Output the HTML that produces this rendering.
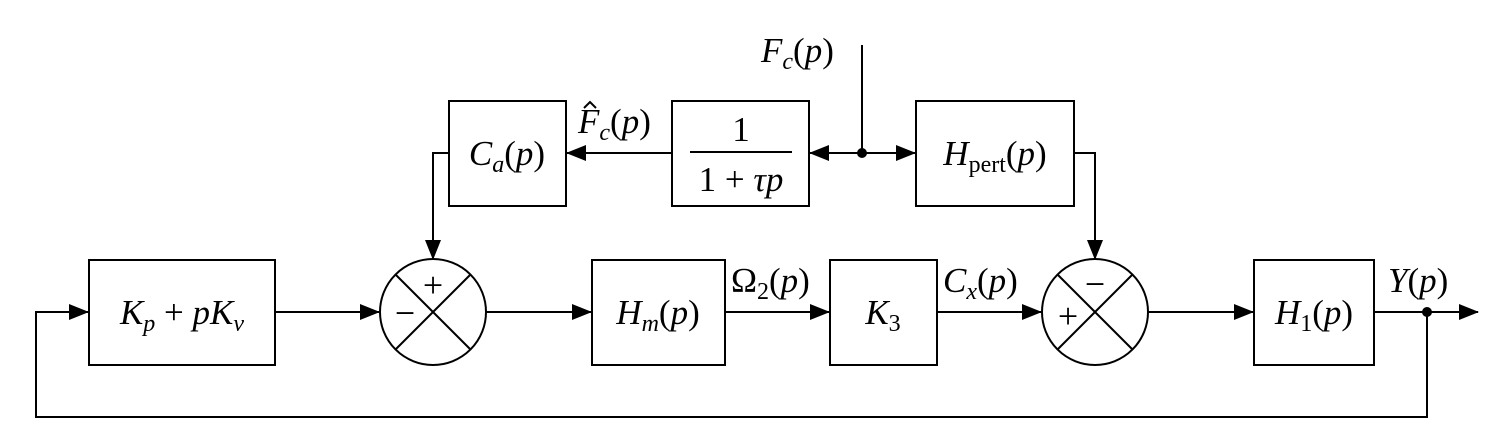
<!DOCTYPE html>
<html><head><meta charset="utf-8"><style>
html,body{margin:0;padding:0;background:#fff;}
svg{display:block;}
text{font-family:"Liberation Serif",serif;font-size:35px;fill:#000;}
.i{font-style:italic;}
.s{font-size:24px;}
</style></head><body>
<svg width="1503" height="435" viewBox="0 0 1503 435">
<defs>
<marker id="ab" markerWidth="20" markerHeight="16" refX="19" refY="8" orient="auto" markerUnits="userSpaceOnUse" viewBox="0 0 20 16"><path d="M0,0 L20,8 L0,16 Z" fill="#000"/></marker></defs>
<g stroke="#000" stroke-width="2" fill="none">
<rect x="89" y="260" width="186" height="105" fill="#fff"/>
<rect x="592" y="260" width="133" height="105" fill="#fff"/>
<rect x="830" y="260" width="107" height="105" fill="#fff"/>
<rect x="1254" y="260" width="120" height="105" fill="#fff"/>
<rect x="449" y="101" width="117" height="105" fill="#fff"/>
<rect x="672" y="101" width="137" height="105" fill="#fff"/>
<rect x="916" y="101" width="158" height="105" fill="#fff"/>
<g><circle cx="433" cy="312" r="53"/><path d="M395.5,274.5L470.5,349.5M470.5,274.5L395.5,349.5"/></g>
<g><circle cx="1095" cy="312" r="53"/><path d="M1057.5,274.5L1132.5,349.5M1132.5,274.5L1057.5,349.5"/></g>
<path d="M275,312H379" marker-end="url(#ab)"/>
<path d="M486,312H591" marker-end="url(#ab)"/>
<path d="M725,312H829" marker-end="url(#ab)"/>
<path d="M937,312H1041" marker-end="url(#ab)"/>
<path d="M1148,312H1253" marker-end="url(#ab)"/>
<path d="M1374,312H1478" marker-end="url(#ab)"/>
<path d="M1427,312V417H36V312H88" marker-end="url(#ab)"/>
<path d="M449,153H433V259" marker-end="url(#ab)"/>
<path d="M1074,153H1095V259" marker-end="url(#ab)"/>
<path d="M862,45V153"/>
<path d="M862,153H810" marker-end="url(#ab)"/>
<path d="M862,153H915" marker-end="url(#ab)"/>
<path d="M672,153H567" marker-end="url(#ab)"/>
<line x1="690" y1="152" x2="792" y2="152"/>
</g>
<circle cx="862" cy="153" r="5" fill="#000"/>
<circle cx="1427" cy="312" r="5" fill="#000"/>
<text x="182" y="324" text-anchor="middle"><tspan class="i">K</tspan><tspan class="s i" dy="7">p</tspan><tspan dy="-7"> + </tspan><tspan class="i">pK</tspan><tspan class="s i" dy="7">v</tspan></text>
<text x="658" y="324" text-anchor="middle"><tspan class="i">H</tspan><tspan class="s i" dy="7">m</tspan><tspan dy="-7">(</tspan><tspan class="i">p</tspan>)</text>
<text x="883" y="324" text-anchor="middle"><tspan class="i">K</tspan><tspan class="s" dy="7">3</tspan></text>
<text x="1314" y="324" text-anchor="middle"><tspan class="i">H</tspan><tspan class="s" dy="7">1</tspan><tspan dy="-7">(</tspan><tspan class="i">p</tspan>)</text>
<text x="507" y="165" text-anchor="middle"><tspan class="i">C</tspan><tspan class="s i" dy="7">a</tspan><tspan dy="-7">(</tspan><tspan class="i">p</tspan>)</text>
<text x="741" y="141" text-anchor="middle">1</text>
<text x="741" y="191" text-anchor="middle">1 + <tspan class="i">τp</tspan></text>
<text x="995" y="165" text-anchor="middle"><tspan class="i">H</tspan><tspan class="s" dy="7">pert</tspan><tspan dy="-7">(</tspan><tspan class="i">p</tspan>)</text>
<text x="578" y="133"><tspan class="i">F</tspan><tspan class="s i" dy="7">c</tspan><tspan dy="-7">(</tspan><tspan class="i">p</tspan>)</text>
<path d="M584,108 L590,102 L596,108" stroke="#000" stroke-width="2" fill="none"/>
<text x="761" y="62"><tspan class="i">F</tspan><tspan class="s i" dy="7">c</tspan><tspan dy="-7">(</tspan><tspan class="i">p</tspan>)</text>
<text x="731" y="292">Ω<tspan class="s" dy="7">2</tspan><tspan dy="-7">(</tspan><tspan class="i">p</tspan>)</text>
<text x="943" y="292"><tspan class="i">C</tspan><tspan class="s i" dy="7">x</tspan><tspan dy="-7">(</tspan><tspan class="i">p</tspan>)</text>
<text x="1388" y="292"><tspan class="i">Y</tspan>(<tspan class="i">p</tspan>)</text>
<text x="433" y="297" text-anchor="middle" style="font-size:36px">+</text>
<text x="405" y="325" text-anchor="middle" style="font-size:36px">−</text>
<text x="1095" y="296" text-anchor="middle" style="font-size:36px">−</text>
<text x="1068" y="328" text-anchor="middle" style="font-size:36px">+</text>
</svg>
</body></html>
